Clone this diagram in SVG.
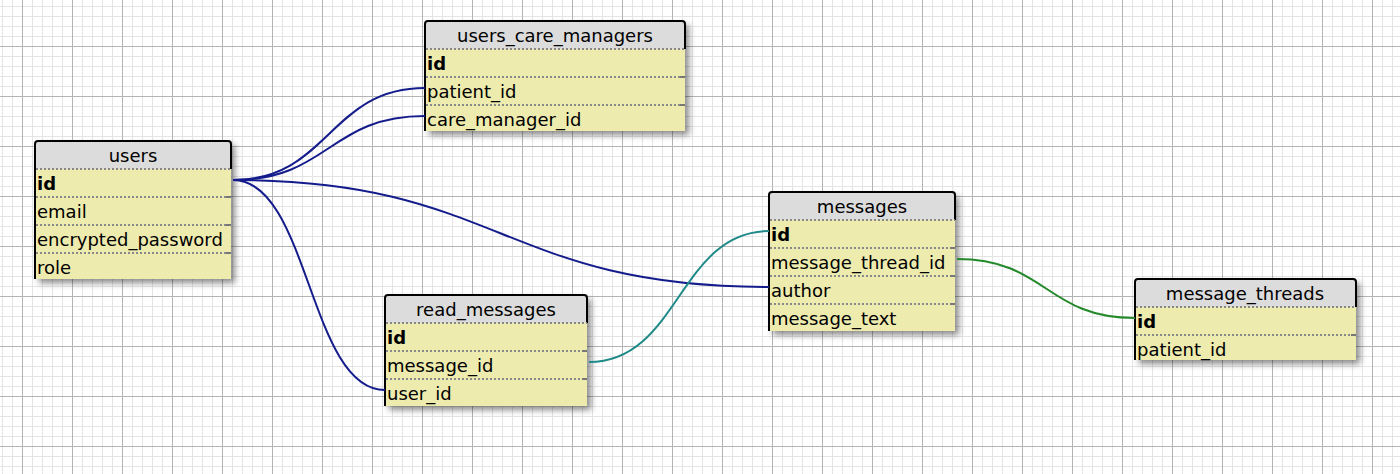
<svg xmlns="http://www.w3.org/2000/svg" width="1400" height="474" viewBox="0 0 1400 474">
  <defs>
    <!-- background grid: fine 10px lines, stronger every 50px -->
    <pattern id="gridMinor" patternUnits="userSpaceOnUse" x="2" y="6" width="10" height="10">
      <path d="M0.5 0 V10 M0 0.5 H10" stroke="#e4e4e4" stroke-width="1" fill="none"/>
    </pattern>
    <pattern id="gridMajor" patternUnits="userSpaceOnUse" x="22" y="46" width="50" height="50">
      <path d="M0.5 0 V50 M0 0.5 H50" stroke="#b4b4b4" stroke-width="1" fill="none"/>
    </pattern>
    <filter id="shadow" x="-10%" y="-10%" width="130%" height="130%">
      <feDropShadow dx="4" dy="4" stdDeviation="3" flood-color="#000" flood-opacity="0.45"/>
    </filter>
    <style>
      .tbl-bg { fill: #eeebaf; filter: url(#shadow); }
      .hdr { fill: #dcdcdc; }
      .frame { fill: none; stroke: #000; stroke-width: 2; }
      .sep { stroke: #888; stroke-width: 2; stroke-dasharray: 2 2; }
      .sep-end { stroke: #777; stroke-width: 2; }
      .title { font-family: "DejaVu Sans", Verdana, sans-serif; font-size: 18px; fill: #000; text-anchor: middle; }
      .col { font-family: "DejaVu Sans", Verdana, sans-serif; font-size: 18px; fill: #000; }
      .pk { font-weight: bold; }
      .rel { fill: none; stroke-width: 2; }
      .rel-user { stroke: #141c8c; }
      .rel-msg { stroke: #1f8a88; }
      .rel-thread { stroke: #23892a; }
    </style>
  </defs>

  <rect width="1400" height="474" fill="#ffffff"/>
  <rect width="1400" height="474" fill="url(#gridMinor)"/>
  <rect width="1400" height="474" fill="url(#gridMajor)"/>

  <!-- users -->
  <g id="users">
    <rect class="tbl-bg" x="35" y="141" width="196" height="138"/>
    <path class="hdr" d="M35 169 V144 Q35 141 38 141 H228 Q231 141 231 144 V169 Z"/>
    <path class="frame" d="M35 279 V144 Q35 141 38 141 H228 Q231 141 231 144 V169"/>
    <line class="sep" x1="36" y1="169" x2="231" y2="169"/>
    <line class="sep" x1="36" y1="197" x2="226" y2="197"/><line class="sep-end" x1="226" y1="197" x2="231" y2="197"/>
    <line class="sep" x1="36" y1="225" x2="226" y2="225"/><line class="sep-end" x1="226" y1="225" x2="231" y2="225"/>
    <line class="sep" x1="36" y1="253" x2="226" y2="253"/><line class="sep-end" x1="226" y1="253" x2="231" y2="253"/>
    <text class="title" x="133" y="162">users</text>
    <text class="col pk" x="37" y="190">id</text>
    <text class="col" x="37" y="218">email</text>
    <text class="col" x="37" y="246">encrypted_password</text>
    <text class="col" x="37" y="274">role</text>
  </g>

  <!-- users_care_managers -->
  <g id="users_care_managers">
    <rect class="tbl-bg" x="425" y="21" width="260" height="110"/>
    <path class="hdr" d="M425 49 V24 Q425 21 428 21 H682 Q685 21 685 24 V49 Z"/>
    <path class="frame" d="M425 131 V24 Q425 21 428 21 H682 Q685 21 685 24 V49"/>
    <line class="sep" x1="426" y1="49" x2="685" y2="49"/>
    <line class="sep" x1="426" y1="77" x2="680" y2="77"/><line class="sep-end" x1="680" y1="77" x2="685" y2="77"/>
    <line class="sep" x1="426" y1="105" x2="680" y2="105"/><line class="sep-end" x1="680" y1="105" x2="685" y2="105"/>
    <text class="title" x="555" y="42">users_care_managers</text>
    <text class="col pk" x="427" y="70">id</text>
    <text class="col" x="427" y="98">patient_id</text>
    <text class="col" x="427" y="126">care_manager_id</text>
  </g>

  <!-- read_messages -->
  <g id="read_messages">
    <rect class="tbl-bg" x="385" y="295" width="202" height="111"/>
    <path class="hdr" d="M385 323 V298 Q385 295 388 295 H584 Q587 295 587 298 V323 Z"/>
    <path class="frame" d="M385 406 V298 Q385 295 388 295 H584 Q587 295 587 298 V323"/>
    <line class="sep" x1="386" y1="323" x2="587" y2="323"/>
    <line class="sep" x1="386" y1="351" x2="582" y2="351"/><line class="sep-end" x1="582" y1="351" x2="587" y2="351"/>
    <line class="sep" x1="386" y1="379" x2="582" y2="379"/><line class="sep-end" x1="582" y1="379" x2="587" y2="379"/>
    <text class="title" x="486" y="316">read_messages</text>
    <text class="col pk" x="387" y="344">id</text>
    <text class="col" x="387" y="372">message_id</text>
    <text class="col" x="387" y="400">user_id</text>
  </g>

  <!-- messages -->
  <g id="messages">
    <rect class="tbl-bg" x="769" y="192" width="186" height="139"/>
    <path class="hdr" d="M769 220 V195 Q769 192 772 192 H952 Q955 192 955 195 V220 Z"/>
    <path class="frame" d="M769 331 V195 Q769 192 772 192 H952 Q955 192 955 195 V220"/>
    <line class="sep" x1="770" y1="220" x2="955" y2="220"/>
    <line class="sep" x1="770" y1="248" x2="950" y2="248"/><line class="sep-end" x1="950" y1="248" x2="955" y2="248"/>
    <line class="sep" x1="770" y1="276" x2="950" y2="276"/><line class="sep-end" x1="950" y1="276" x2="955" y2="276"/>
    <line class="sep" x1="770" y1="304" x2="950" y2="304"/><line class="sep-end" x1="950" y1="304" x2="955" y2="304"/>
    <text class="title" x="862" y="213">messages</text>
    <text class="col pk" x="771" y="241">id</text>
    <text class="col" x="771" y="269">message_thread_id</text>
    <text class="col" x="771" y="297">author</text>
    <text class="col" x="771" y="325">message_text</text>
  </g>

  <!-- message_threads -->
  <g id="message_threads">
    <rect class="tbl-bg" x="1135" y="279" width="221" height="81"/>
    <path class="hdr" d="M1135 307 V282 Q1135 279 1138 279 H1353 Q1356 279 1356 282 V307 Z"/>
    <path class="frame" d="M1135 360 V282 Q1135 279 1138 279 H1353 Q1356 279 1356 282 V307"/>
    <line class="sep" x1="1136" y1="307" x2="1356" y2="307"/>
    <line class="sep" x1="1136" y1="335" x2="1351" y2="335"/><line class="sep-end" x1="1351" y1="335" x2="1356" y2="335"/>
    <text class="title" x="1245" y="300">message_threads</text>
    <text class="col pk" x="1137" y="328">id</text>
    <text class="col" x="1137" y="356">patient_id</text>
  </g>

  <!-- relations between columns -->
  <g id="connectors">
    <path class="rel rel-user" d="M233 180 C329 180 329 88 425 88"/>
    <path class="rel rel-user" d="M233 180 C329 180 329 116 425 116"/>
    <path class="rel rel-user" d="M233 180 C501 180 501 287 769 287"/>
    <path class="rel rel-user" d="M233 180 C309 180 309 390 385 390"/>
    <path class="rel rel-msg" d="M589 362 C679 362 679 231 769 231"/>
    <path class="rel rel-thread" d="M957 259 C1046 259 1046 318 1135 318"/>
  </g>
</svg>
